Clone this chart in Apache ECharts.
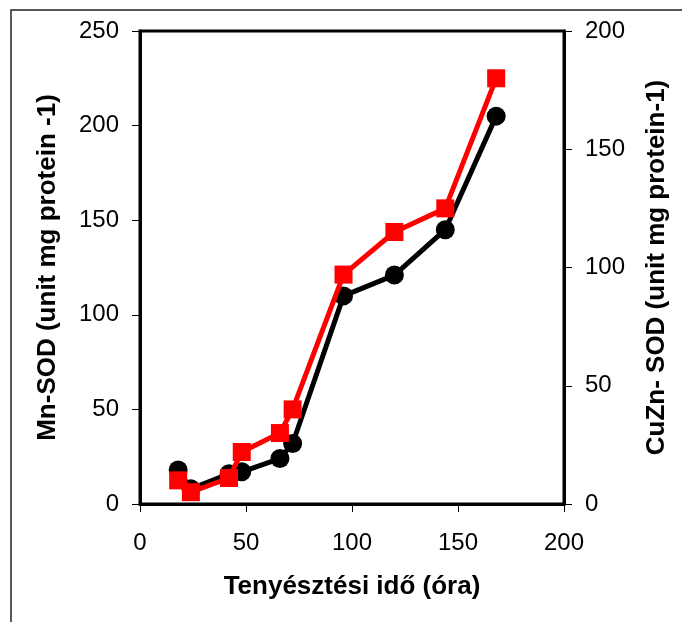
<!DOCTYPE html>
<html>
<head>
<meta charset="utf-8">
<script src="https://cdn.jsdelivr.net/npm/echarts@6/dist/echarts.min.js"></script>
<style>
  html, body { margin: 0; padding: 0; background: #fff; }
  #chart { width: 682px; height: 622px; }
</style>
</head>
<body>
<div id="chart"></div>
<script>
// Culture time (hours)
const hours = [18, 24, 42, 48, 66, 72, 96, 120, 144, 168];
// Mn-SOD activity, left axis
const mnSod = [18, 8, 16, 17, 24, 32, 110, 121, 145, 205];
// CuZn-SOD activity, right axis
const cuznSod = [10, 5, 11, 22, 30, 40, 97, 115, 125, 180];

const xTicks = [0, 50, 100, 150, 200];
const leftTicks = [0, 50, 100, 150, 200, 250];
const rightTicks = [0, 50, 100, 150, 200];

const FONT = '"Liberation Sans", Arial, sans-serif';

const pairs = (xs, ys) => xs.map((x, i) => [x, ys[i]]);

const chart = echarts.init(document.getElementById('chart'), null, { renderer: 'canvas' });

const tickStyle = { show: true, inside: false, length: 8, lineStyle: { color: '#000', width: 1 } };
const labelStyle = { color: '#000', fontFamily: FONT, fontSize: 24 };
const nameStyle = { color: '#000', fontFamily: FONT, fontSize: 26, fontWeight: 'bold' };

chart.setOption({
  animation: false,
  backgroundColor: '#fff',
  graphic: [{
    type: 'rect',
    shape: { x: 11, y: 10, width: 1000, height: 1000 },
    style: { fill: 'none', stroke: '#222', lineWidth: 1.5 },
    z: -1
  }],
  grid: {
    left: 140, right: 118, top: 31, bottom: 118,
    show: true, borderColor: '#000', borderWidth: 3, backgroundColor: 'transparent'
  },
  xAxis: {
    type: 'value',
    min: xTicks[0], max: xTicks[xTicks.length - 1], interval: 50,
    name: 'Tenyésztési idő (óra)',
    nameLocation: 'middle', nameGap: 70,
    nameTextStyle: nameStyle,
    axisLine: { show: true, lineStyle: { color: '#000', width: 3 } },
    axisTick: tickStyle,
    axisLabel: Object.assign({ margin: 27 }, labelStyle),
    splitLine: { show: false }
  },
  yAxis: [{
    type: 'value', position: 'left',
    min: leftTicks[0], max: leftTicks[leftTicks.length - 1], interval: 50,
    name: 'Mn-SOD (unit mg protein -1)',
    nameLocation: 'middle', nameGap: 79, nameRotate: 90,
    nameTextStyle: nameStyle,
    axisLine: { show: true, lineStyle: { color: '#000', width: 3 } },
    axisTick: tickStyle,
    axisLabel: Object.assign({ margin: 21 }, labelStyle),
    splitLine: { show: false }
  }, {
    type: 'value', position: 'right',
    min: rightTicks[0], max: rightTicks[rightTicks.length - 1], interval: 50,
    name: 'CuZn- SOD (unit mg protein-1)',
    nameLocation: 'middle', nameGap: 80, nameRotate: 90,
    nameTextStyle: nameStyle,
    axisLine: { show: true, lineStyle: { color: '#000', width: 3 } },
    axisTick: tickStyle,
    axisLabel: Object.assign({ margin: 21 }, labelStyle),
    splitLine: { show: false }
  }],
  series: [{
    name: 'Mn-SOD',
    type: 'line',
    yAxisIndex: 0,
    data: pairs(hours, mnSod),
    symbol: 'circle', symbolSize: 19,
    lineStyle: { color: '#000', width: 5 },
    itemStyle: { color: '#000' },
    z: 2
  }, {
    name: 'CuZn-SOD',
    type: 'line',
    yAxisIndex: 1,
    data: pairs(hours, cuznSod),
    symbol: 'rect', symbolSize: 18,
    lineStyle: { color: '#ff0000', width: 5 },
    itemStyle: { color: '#ff0000' },
    z: 3
  }]
});
</script>
</body>
</html>
